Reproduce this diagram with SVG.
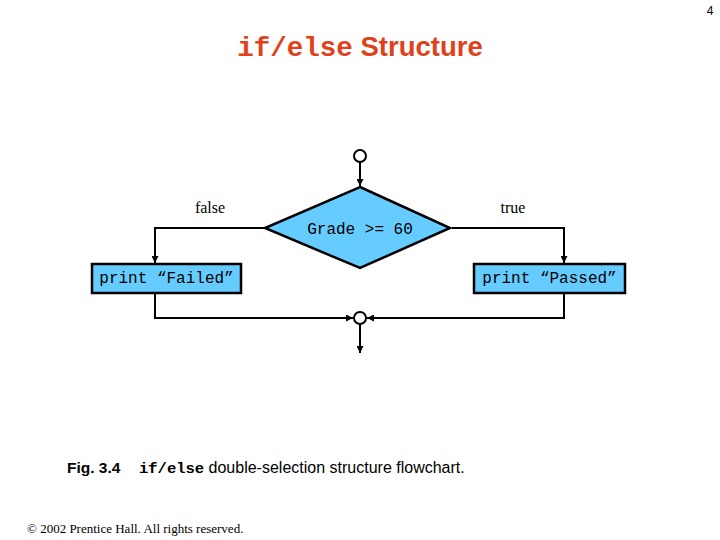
<svg xmlns="http://www.w3.org/2000/svg" width="720" height="540" viewBox="0 0 720 540">
<defs>
<marker id="ah" viewBox="0 0 10 10" refX="10" refY="5" markerWidth="7" markerHeight="7" markerUnits="userSpaceOnUse" orient="auto">
<path d="M0,0 L10,5 L0,10 z" fill="#000"/>
</marker>
</defs>
<style>
.shape{fill:#66ccff;stroke:#000;stroke-width:2.5}
.ln{fill:none;stroke:#000;stroke-width:2}
.circ{fill:#fff;stroke:#000;stroke-width:2}
.mono{font-family:"Liberation Mono",monospace;font-size:16px;fill:#000}
.ser{font-family:"Liberation Serif",serif;font-size:16px;fill:#000}
</style>
<rect width="720" height="540" fill="#fff"/>
<text x="710" y="15" font-family="Liberation Sans,sans-serif" font-size="12" text-anchor="middle">4</text>
<text x="360" y="56" text-anchor="middle" fill="#e0401a" font-weight="bold" font-size="27.5"><tspan font-family="Liberation Mono,monospace">if/else</tspan><tspan font-family="Liberation Sans,sans-serif"> Structure</tspan></text>
<g id="connectors">
<line class="ln" x1="360" y1="162" x2="360" y2="186" marker-end="url(#ah)"/>
<polyline class="ln" points="265,228 155,228 155,263" marker-end="url(#ah)"/>
<polyline class="ln" points="452,228 564,228 564,263" marker-end="url(#ah)"/>
<polyline class="ln" points="155,293 155,318 353,318" marker-end="url(#ah)"/>
<polyline class="ln" points="564,293 564,318 367,318" marker-end="url(#ah)"/>
<line class="ln" x1="360" y1="324" x2="360" y2="353" marker-end="url(#ah)"/>
</g>
<g id="start"><circle class="circ" cx="360" cy="156" r="6"/></g>
<g id="decision">
<polygon class="shape" points="360,187 450,228 360,268 265,228"/>
<text class="mono" x="360" y="234" text-anchor="middle">Grade &gt;= 60</text>
</g>
<g id="label-false"><text class="ser" x="210" y="213" text-anchor="middle">false</text></g>
<g id="label-true"><text class="ser" x="513" y="213" text-anchor="middle">true</text></g>
<g id="failed">
<rect class="shape" x="92" y="264" width="149" height="29"/>
<text class="mono" x="166.5" y="283" text-anchor="middle">print “Failed”</text>
</g>
<g id="passed">
<rect class="shape" x="474" y="264" width="151" height="29"/>
<text class="mono" x="549.5" y="283" text-anchor="middle">print “Passed”</text>
</g>
<g id="merge"><circle class="circ" cx="360" cy="318" r="6"/></g>
<text x="67" y="473" font-size="15.5"><tspan font-family="Liberation Sans,sans-serif" font-weight="bold">Fig. 3.4</tspan><tspan x="139" font-family="Liberation Mono,monospace" font-weight="bold" font-size="15.5">if/else</tspan><tspan font-family="Liberation Sans,sans-serif" font-size="16"> double-selection structure flowchart.</tspan></text>
<text x="27" y="533" font-family="Liberation Serif,serif" font-size="13">© 2002 Prentice Hall.  All rights reserved.</text>
</svg>
